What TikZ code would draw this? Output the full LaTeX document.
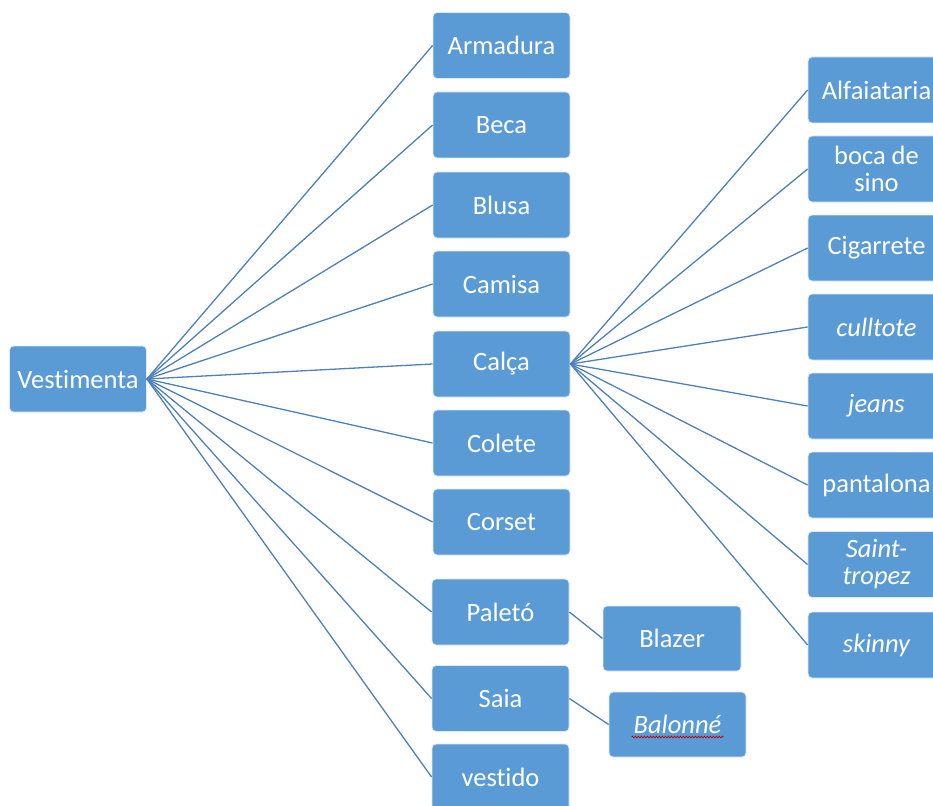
\documentclass[tikz,border=0pt]{standalone}
\usepackage{fontspec}
\setmainfont{Carlito}[Ligatures=NoCommon]
\usetikzlibrary{decorations.pathmorphing}

\definecolor{boxblue}{RGB}{91,155,213}
\definecolor{linkblue}{RGB}{78,128,186}

\begin{document}
\begin{tikzpicture}[x=1pt, y=-1pt,
  item/.style={draw=white!80!boxblue, line width=0.8pt, fill=boxblue, rounded corners=4pt,
    text=white, minimum width=137pt, minimum height=66pt, inner sep=2pt, align=center,
    font=\fontsize{26.5}{27}\selectfont},
  link/.style={draw=linkblue, line width=1.3pt}]

  \useasboundingbox (0,0) rectangle (933,805);
  \clip (0,0) rectangle (933,805);

  % root
  \node[item] (vest) at (78,379) {Vestimenta};

  % first level
  \node[item] (armadura) at (501.5,45.5) {Armadura};
  \node[item] (beca) at (501.5,125) {Beca};
  \node[item] (blusa) at (501.5,205) {Blusa};
  \node[item] (camisa) at (501.5,284) {Camisa};
  \node[item] (calca) at (501.5,364) {Calça};
  \node[item] (colete) at (501.5,443) {Colete};
  \node[item] (corset) at (501.5,522) {Corset};
  \node[item] (paleto) at (500.5,612) {Paletó};
  \node[item] (saia) at (500.5,698.5) {Saia};
  \node[item] (vestido) at (500.5,777) {vestido};

  % kinds of calça
  \node[item] (alfaiataria) at (876.5,90) {Alfaiataria};
  \node[item] (bocasino) at (876.5,169) {boca de\\sino};
  \node[item] (cigarrete) at (876.5,248) {Cigarrete};
  \node[item] (culltote) at (876.5,327) {\itshape culltote};
  \node[item] (jeans) at (876.5,406) {\itshape jeans};
  \node[item] (pantalona) at (876.5,485) {pantalona};
  \node[item] (sainttropez) at (876.5,564.5) {\itshape Saint-\\\itshape tropez};
  \node[item] (skinny) at (876.5,645) {\itshape skinny};

  % paletó and saia
  \node[item, minimum width=138pt, minimum height=65pt] (blazer) at (672,638.5) {Blazer};
  \node[item, minimum height=65pt] (balonne) at (677.5,724.5) {\itshape Balonné};
  \draw[red!80!black, line width=0.7pt, decorate, decoration={snake, amplitude=0.9pt, segment length=3pt}]
    ([xshift=-46pt, yshift=-12.5pt]balonne.center) -- ([xshift=46pt, yshift=-12.5pt]balonne.center);

  % root to first level
  \draw[link] (vest.east) -- (armadura.west);
  \draw[link] (vest.east) -- (beca.west);
  \draw[link] (vest.east) -- (blusa.west);
  \draw[link] (vest.east) -- (camisa.west);
  \draw[link] (vest.east) -- (calca.west);
  \draw[link] (vest.east) -- (colete.west);
  \draw[link] (vest.east) -- (corset.west);
  \draw[link] (vest.east) -- (paleto.west);
  \draw[link] (vest.east) -- (saia.west);
  \draw[link] (vest.east) -- (vestido.west);

  % calça to its kinds
  \draw[link] (calca.east) -- (alfaiataria.west);
  \draw[link] (calca.east) -- (bocasino.west);
  \draw[link] (calca.east) -- (cigarrete.west);
  \draw[link] (calca.east) -- (culltote.west);
  \draw[link] (calca.east) -- (jeans.west);
  \draw[link] (calca.east) -- (pantalona.west);
  \draw[link] (calca.east) -- (sainttropez.west);
  \draw[link] (calca.east) -- (skinny.west);

  \draw[link] (paleto.east) -- (blazer.west);
  \draw[link] (saia.east) -- (balonne.west);

\end{tikzpicture}
\end{document}
